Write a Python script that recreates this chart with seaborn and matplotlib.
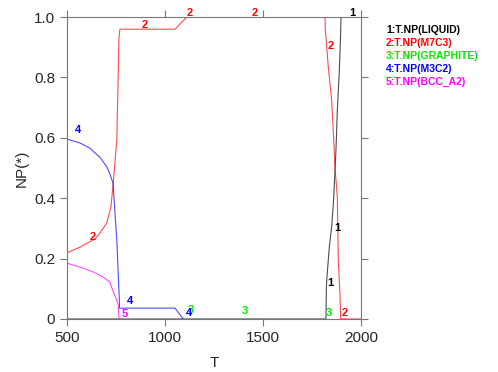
import pandas as pd
import matplotlib
matplotlib.use("Agg")
import matplotlib.pyplot as plt
import seaborn as sns

# phase fractions NP(*) versus temperature T
t_liquid = [500, 1821, 1823, 1825, 1838, 1850, 1859, 1867, 1872, 1879, 1889, 1895, 1898, 2000]
np_liquid = [0.0, 0.0, 0.10, 0.129, 0.238, 0.305, 0.384, 0.49, 0.56, 0.69, 0.82, 0.93, 1.0, 1.0]

t_m7c3 = [500, 566, 643, 668, 684, 703, 724, 736, 754, 759, 765, 770, 1051, 1111,
          1816, 1818, 1833, 1850, 1859, 1867, 1879, 1884, 1893, 1896, 2000]
np_m7c3 = [0.219, 0.238, 0.265, 0.285, 0.30, 0.318, 0.371, 0.45, 0.593, 0.735, 0.93, 0.96, 0.96, 1.0,
           1.0, 0.957, 0.834, 0.725, 0.616, 0.503, 0.404, 0.195, 0.073, 0.0, 0.0]

t_graphite = [1066, 1821]
np_graphite = [0.0, 0.0]

t_m3c2 = [500, 566, 617, 643, 668, 704, 719, 735, 745, 755, 767, 768, 1051, 1093]
np_m3c2 = [0.596, 0.583, 0.566, 0.55, 0.536, 0.503, 0.48, 0.45, 0.35, 0.25, 0.063, 0.036, 0.036, 0.0]

t_bcc = [500, 566, 633, 684, 719, 736, 753, 762, 765]
np_bcc = [0.185, 0.172, 0.156, 0.139, 0.122, 0.09, 0.063, 0.046, 0.0]

names = ["1:T.NP(LIQUID)", "2:T.NP(M7C3)", "3:T.NP(GRAPHITE)", "4:T.NP(M3C2)", "5:T.NP(BCC_A2)"]
colors = ["black", "red", "#00ee00", "blue", "magenta"]

# curve number labels (T, NP, number)
marks = [
    (556, 0.625, "4"), (633, 0.27, "2"), (898, 0.975, "2"), (1127, 1.012, "2"),
    (1459, 1.012, "2"), (1954, 1.012, "1"), (1847, 0.905, "2"), (1878, 0.30, "1"),
    (1842, 0.12, "1"), (821, 0.058, "4"), (796, 0.015, "5"), (1130, 0.03, "3"),
    (1122, 0.02, "4"), (1408, 0.028, "3"), (1837, 0.02, "3"), (1918, 0.02, "2"),
]
mark_color = {"1": "black", "2": "red", "3": "#00ee00", "4": "blue", "5": "magenta"}

series = [(t_liquid, np_liquid), (t_m7c3, np_m7c3), (t_graphite, np_graphite),
          (t_m3c2, np_m3c2), (t_bcc, np_bcc)]
frames = []
for name, (t, v) in zip(names, series):
    frames.append(pd.DataFrame({"T": t, "NP": v, "phase": name}))
df = pd.concat(frames, ignore_index=True)

sns.set_style("white")
plt.rcParams["font.family"] = ["Liberation Sans", "DejaVu Sans"]

fig = plt.figure(figsize=(4.98, 3.72), dpi=100)
ax = fig.add_axes([0.1345, 0.1425, 0.5905, 0.8115])

sns.lineplot(data=df, x="T", y="NP", hue="phase", palette=colors, sort=False,
             estimator=None, linewidth=0.8, alpha=0.7, legend=False, ax=ax)

for t, v, s in marks:
    ax.text(t, v, s, color=mark_color[s], fontsize=8, fontweight="bold",
            ha="center", va="center")

ax.set_xlim(500, 2000)
ax.set_ylim(0, 1.0)
ax.set_xticks([500, 1000, 1500, 2000])
ax.set_yticks([0, 0.2, 0.4, 0.6, 0.8, 1.0])
ax.set_yticklabels(["0", "0.2", "0.4", "0.6", "0.8", "1.0"])
ax.tick_params(direction="out", length=5, width=0.8, color="#777777",
               top=True, right=True, bottom=True, left=True, labelsize=11)
for sp in ax.spines.values():
    sp.set_color("#777777")
    sp.set_linewidth(0.8)
ax.set_xlabel("T", fontsize=11, labelpad=8)
ax.set_ylabel("NP(*)", fontsize=11, labelpad=4)

for i, (name, c) in enumerate(zip(names, colors)):
    fig.text(0.775, 0.92 - i * 0.035, name, color=c, fontsize=7.5,
             fontweight="bold", va="center", ha="left")

fig.savefig("out.png", dpi=100)
